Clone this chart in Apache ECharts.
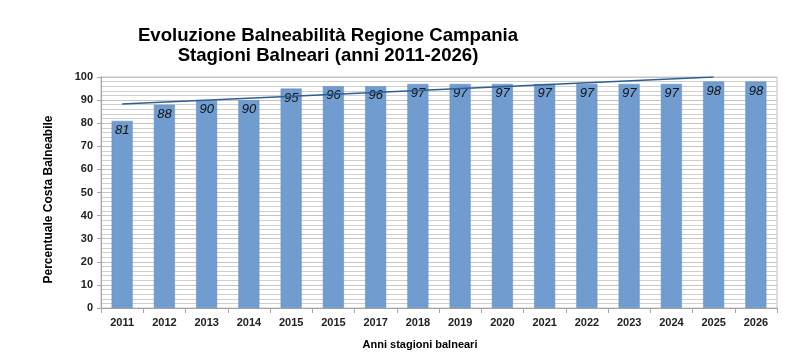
<!DOCTYPE html>
<html><head><meta charset="utf-8">
<script src="https://cdn.jsdelivr.net/npm/echarts@6/dist/echarts.min.js"></script>
<style>html,body{margin:0;padding:0;background:#fff}#c{width:803px;height:360px}</style>
</head><body><div id="c"></div>
<script>
const categories = ['2011','2012','2013','2014','2015','2015','2017','2018','2019','2020','2021','2022','2023','2024','2025','2026'];
const values = [81,88,90,90,95,96,96,97,97,97,97,97,97,97,98,98];
const trend = [88.3,null,null,null,null,null,null,null,null,null,null,null,null,null,100,null];
const yTicks = [0,10,20,30,40,50,60,70,80,90,100];

const chart = echarts.init(document.getElementById('c'), null, {renderer:'canvas'});
chart.setOption({
  animation:false,
  backgroundColor:'#fff',
  title:{
    text:'Evoluzione Balneabilità Regione Campania\nStagioni Balneari (anni 2011-2026)',
    left:323, top:21, textAlign:'center',
    textStyle:{fontFamily:'Liberation Sans, Arial', fontWeight:'bold', fontSize:18.6, lineHeight:20, color:'#000'}
  },
  grid:{left:101,right:26,top:77,bottom:52,show:true,borderColor:'#c0c0c0',borderWidth:1,backgroundColor:'transparent'},
  xAxis:{
    type:'category', data:categories, boundaryGap:true,
    axisLine:{lineStyle:{color:'#a6a6a6'}},
    axisTick:{show:true,length:5,lineStyle:{color:'#a6a6a6'},alignWithLabel:false},
    axisLabel:{color:'#222',fontFamily:'Liberation Sans, Arial',fontWeight:'bold',fontSize:11,margin:9,interval:0},
    name:'Anni stagioni balneari', nameLocation:'middle', nameGap:31,
    nameTextStyle:{color:'#000',fontFamily:'Liberation Sans, Arial',fontWeight:'bold',fontSize:11,padding:[0,38,0,0]}
  },
  yAxis:{
    type:'value', min:yTicks[0], max:yTicks[yTicks.length-1], interval:10,
    axisLine:{show:true,lineStyle:{color:'#a6a6a6'}},
    axisTick:{show:true,length:4,lineStyle:{color:'#a6a6a6'}},
    axisLabel:{color:'#222',fontFamily:'Liberation Sans, Arial',fontWeight:'bold',fontSize:11,margin:8},
    splitLine:{show:true,lineStyle:{color:'#c4c4c4',width:1}},
    minorTick:{show:false,splitNumber:5},
    minorSplitLine:{show:true,lineStyle:{color:'#cfcfcf',width:1}},
    name:'Percentuale Costa Balneabile', nameLocation:'middle', nameGap:46, nameRotate:90,
    nameTextStyle:{color:'#000',fontFamily:'Liberation Sans, Arial',fontWeight:'bold',fontSize:12,padding:[0,14,0,0]}
  },
  series:[
    {type:'bar', data:values, barWidth:21,
     itemStyle:{color:'#709ccf',borderColor:'#5f8bc0',borderWidth:0.5},
     label:{show:true,position:'insideTop',distance:3,color:'#111',fontStyle:'italic',fontFamily:'Liberation Sans, Arial',fontSize:13}
    },
    {type:'line', data:trend, connectNulls:true, symbol:'none', z:5,
     lineStyle:{color:'#2c5f94',width:1.5}}
  ]
});
</script></body></html>
